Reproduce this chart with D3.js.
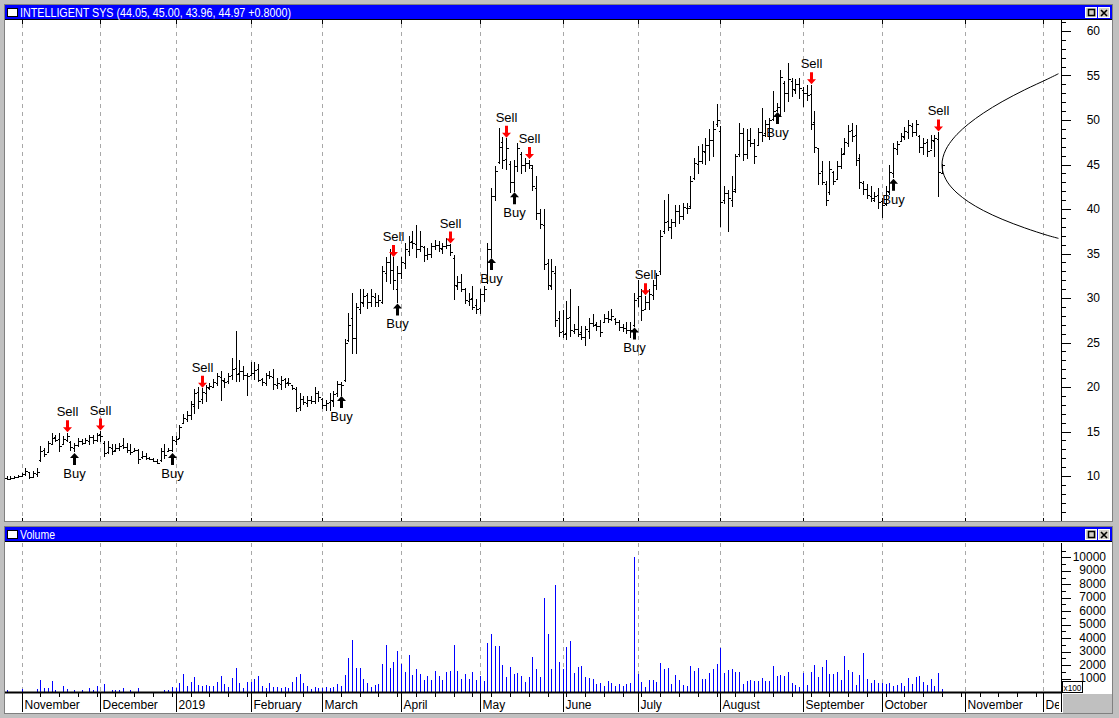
<!DOCTYPE html>
<html><head><meta charset="utf-8">
<script src="https://cdn.jsdelivr.net/npm/d3@7"></script>
<style>
body{margin:0;background:#c0c0c0;}
svg{display:block;}
text{font-family:"Liberation Sans",Arial,sans-serif;}
</style>
</head><body>
<svg id="chart" width="1119" height="718"></svg>
<script>
// ---------------- DATA ----------------
const titleText = "INTELLIGENT SYS (44.05, 45.00, 43.96, 44.97 +0.8000)";
const openP = [9.7,9.8,9.7,9.8,9.9,10.0,10.2,10.4,9.9,10.2,
11.8,12.9,12.7,13.6,14.4,14.2,13.6,14.1,13.8,13.2,
13.5,13.9,13.7,13.9,14.4,14.1,14.7,13.7,12.7,13.2,
12.9,13.1,13.5,13.3,12.9,12.8,12.9,12.1,12.3,12.0,
11.9,11.7,11.8,12.8,12.8,12.9,13.9,14.3,16.0,16.4,
16.8,17.9,19.4,18.6,19.3,19.9,20.0,20.5,21.1,20.7,
20.7,21.3,22.1,21.6,21.8,21.3,21.4,21.6,22.0,20.9,
20.5,21.3,21.1,20.2,20.3,20.9,20.6,20.2,19.8,17.7,
18.6,18.2,18.5,18.4,19.3,18.7,18.0,18.3,18.4,19.3,
20.3,20.8,25.3,27.8,25.5,28.8,29.4,30.3,29.5,30.1,
29.6,29.6,32.8,34.0,33.2,31.0,32.8,33.9,35.3,36.4,
36.1,35.5,35.7,34.8,35.0,35.8,35.9,35.5,35.8,35.9,
34.5,31.4,31.8,31.0,29.7,30.0,29.2,28.9,30.4,31.8,
35.5,41.5,45.3,47.5,45.6,45.1,43.0,44.8,46.2,45.0,
45.2,44.6,42.4,39.6,38.2,33.9,31.4,32.8,27.8,26.3,
26.1,27.9,26.3,26.5,26.2,25.6,26.3,27.2,27.1,26.8,
27.3,27.8,27.6,27.6,27.3,26.7,26.6,26.4,27.0,30.0,
30.2,28.8,29.6,30.3,31.5,33.0,37.5,38.6,38.0,38.5,
39.8,39.2,40.1,40.3,43.5,45.1,45.4,46.4,47.2,47.8,
49.5,48.8,41.0,41.8,41.0,42.2,46.2,48.5,46.2,47.8,
47.4,47.2,48.6,48.5,49.6,50.1,51.1,51.5,54.2,53.0,
54.4,53.4,54.0,53.4,53.0,52.9,49.8,46.8,44.3,42.8,
41.9,44.2,43.4,44.8,46.3,47.4,48.9,48.3,45.7,42.9,
42.3,41.5,41.0,41.6,40.9,40.6,41.9,44.0,46.7,47.6,
48.1,48.6,49.3,48.6,48.2,47.0,47.5,46.6,47.6,47.9,
44.05];
const highP = [9.9,9.9,9.9,10.0,10.1,10.3,10.8,10.4,10.5,10.8,
13.3,13.1,13.9,14.8,14.6,14.8,14.4,14.8,13.9,13.7,
14.2,14.1,14.2,14.6,14.6,14.8,15.0,13.9,13.9,13.5,
13.5,13.7,14.2,13.7,13.5,13.1,13.0,12.8,12.5,12.1,
12.0,11.8,13.1,13.5,13.1,14.4,14.4,15.7,16.9,17.2,
18.4,19.7,20.0,19.8,20.2,20.4,20.8,21.5,21.7,21.0,
21.5,23.2,26.2,23.0,22.3,21.5,22.8,22.7,22.5,21.0,
21.5,21.7,22.0,21.0,21.2,21.0,21.0,20.2,19.9,19.3,
18.9,18.9,18.9,20.0,19.5,18.7,18.5,19.3,19.5,20.6,
20.5,25.3,28.3,30.5,29.4,30.9,30.9,30.5,30.9,30.5,
30.3,33.5,34.6,35.4,34.5,33.5,34.5,36.1,36.9,37.5,
38.2,37.5,35.8,35.6,36.1,36.5,36.3,36.1,36.7,36.0,
34.8,32.4,32.6,31.1,30.5,31.3,29.8,30.9,31.3,36.1,
42.3,44.8,49.1,48.0,47.9,45.3,45.5,47.4,46.4,45.7,
45.5,44.9,43.6,39.9,39.9,34.3,34.3,33.5,28.5,28.6,
29.6,30.9,27.0,29.0,26.8,26.8,27.7,28.1,27.2,27.5,
28.1,28.5,28.7,27.7,27.5,27.0,27.2,27.3,30.5,32.0,
30.9,30.2,30.9,32.0,32.8,37.6,41.0,41.6,38.8,40.4,
40.4,40.6,40.6,43.6,45.7,47.0,47.2,47.9,48.9,49.8,
51.7,49.3,42.5,42.1,43.6,46.1,49.6,49.1,48.9,49.1,
47.8,49.1,51.3,50.0,50.2,53.2,51.8,55.6,54.3,56.4,
54.7,54.5,54.7,53.7,53.9,53.9,50.9,46.8,45.3,43.1,
45.3,44.2,45.3,46.8,47.9,49.4,49.6,49.4,46.1,43.1,
42.7,42.5,41.9,42.3,41.2,42.5,44.9,47.4,47.6,48.5,
49.2,50.0,49.6,50.0,48.3,47.9,47.8,48.3,48.3,48.6,
45.00];
const lowP = [9.6,9.6,9.6,9.7,9.8,9.9,10.1,9.7,9.8,9.9,
11.6,12.2,12.7,13.5,13.9,12.7,13.5,13.9,12.9,12.7,
13.3,13.5,13.6,13.5,13.7,13.9,13.9,12.2,12.5,12.4,
12.7,12.9,13.1,12.6,12.4,12.7,11.4,12.0,11.8,11.8,
11.6,11.4,11.6,12.0,12.7,12.7,13.5,14.2,15.9,16.1,
16.3,17.0,17.6,18.2,18.4,19.7,19.9,20.2,18.5,20.0,
20.4,20.8,20.6,20.6,20.8,19.1,21.3,20.8,20.6,20.2,
20.2,21.0,19.7,19.8,19.7,19.9,20.2,19.7,17.2,17.4,
18.0,17.8,18.2,18.2,18.4,17.6,17.4,17.4,17.8,18.9,
19.1,20.6,25.1,23.8,23.8,28.3,29.0,28.8,29.0,29.0,
29.0,29.4,31.8,31.6,30.9,29.5,32.2,33.3,34.8,35.6,
34.5,35.2,34.1,34.3,34.5,35.4,35.2,35.0,35.6,34.8,
29.8,30.9,30.7,29.4,29.2,28.7,28.3,28.3,29.6,31.6,
34.6,41.0,45.1,44.6,44.4,41.9,42.0,44.2,44.0,44.2,
44.6,42.1,38.8,37.8,33.2,30.9,30.9,26.8,25.7,25.6,
25.3,25.7,26.0,25.7,25.3,24.7,25.5,26.8,26.4,25.7,
27.2,27.3,27.5,27.0,26.4,26.2,26.0,25.6,26.8,29.0,
27.5,28.7,28.7,29.8,30.9,32.6,37.3,37.6,36.7,38.0,
38.4,38.8,39.5,40.1,43.3,44.0,45.1,45.0,45.5,45.9,
49.3,38.0,40.6,37.5,40.3,41.8,45.9,45.5,45.7,47.0,
45.1,47.2,47.6,48.1,47.8,50.0,51.0,50.4,50.9,52.1,
52.6,53.0,52.4,51.5,52.2,48.9,46.4,42.7,42.7,40.4,
41.6,42.7,43.4,44.6,46.1,47.0,47.6,44.9,42.3,41.6,
41.2,40.8,40.8,40.1,39.1,40.4,41.6,43.5,46.1,47.6,
47.8,47.9,48.1,48.3,46.4,46.1,45.9,46.8,45.9,41.4,
43.96];
const closeP = [9.8,9.7,9.8,9.9,10.0,10.2,10.6,9.9,10.3,10.5,
12.8,12.5,13.7,14.3,14.1,13.4,14.2,14.5,13.3,13.5,
13.9,13.7,14.0,14.4,14.1,14.6,14.5,12.6,13.3,12.8,
13.1,13.4,13.3,12.9,12.7,12.9,11.9,12.3,12.0,11.9,
11.7,11.5,12.8,12.4,12.9,14.0,14.2,15.5,16.5,16.9,
18.1,19.3,18.4,19.4,20.0,20.1,20.6,21.2,20.8,20.6,
21.2,22.0,21.5,21.8,21.4,21.2,21.6,21.9,20.8,20.6,
21.3,21.2,20.3,20.4,20.8,20.5,20.4,19.9,17.6,18.6,
18.3,18.5,18.4,19.3,18.9,18.0,18.2,18.5,19.2,20.3,
20.2,25.0,27.0,25.5,29.0,29.5,30.2,29.5,30.2,29.6,
29.8,33.0,34.0,33.2,32.0,32.8,34.0,35.5,36.3,36.2,
35.5,35.8,34.8,35.0,35.8,35.9,35.6,35.8,36.0,35.2,
31.5,31.8,31.0,29.8,29.9,29.0,28.8,30.5,31.0,35.5,
41.5,44.3,47.0,45.5,46.8,43.0,44.8,46.8,45.0,45.2,
45.0,42.6,39.5,38.3,33.8,31.5,33.0,27.5,26.2,26.0,
27.8,26.4,26.5,26.0,25.6,26.5,27.2,27.0,26.8,26.2,
27.8,27.6,28.0,27.3,26.7,26.6,26.4,26.4,29.8,30.2,
28.6,29.6,30.5,31.5,32.6,37.0,38.5,38.0,38.5,39.8,
39.2,40.2,40.1,43.2,45.2,45.4,46.5,47.2,47.8,49.0,
50.0,40.8,41.8,41.2,42.0,45.9,48.5,46.2,47.8,47.4,
46.0,48.6,48.3,49.6,50.0,51.0,51.5,54.8,53.0,54.6,
53.5,54.0,53.6,53.0,52.8,49.5,47.0,44.0,43.0,41.0,
44.5,43.2,44.8,46.2,47.5,48.8,48.2,45.5,43.0,42.2,
41.6,41.2,41.5,40.8,40.5,42.0,44.2,46.8,47.3,48.2,
48.8,49.4,48.6,49.5,47.0,47.4,46.5,47.8,48.0,44.17,
44.97];
// volume, in the axis units (x100 shares)
const volume = [60,150,20,20,20,215,20,20,20,215,
880,290,290,800,140,20,435,215,20,120,
20,120,20,290,140,435,20,580,20,140,
140,140,290,20,140,20,290,20,20,20,
20,20,20,140,140,360,330,660,1320,460,
730,1100,540,460,540,460,460,730,1170,580,
390,1030,1760,660,290,710,760,950,1170,470,
290,660,360,360,290,360,290,730,1100,1320,
660,440,215,360,290,290,360,290,360,580,
440,1250,2500,3830,1760,1760,950,660,360,510,
580,2060,3460,1760,2210,3020,2060,1470,2720,1250,
1690,1320,880,1170,880,1540,1170,880,1470,1540,
3460,1540,950,1320,950,1470,880,1170,800,3610,
4340,3380,3380,1990,1100,1840,1320,1400,1170,730,
1100,2570,1690,1100,7000,4340,1690,7960,2210,1690,
3310,3750,1400,1840,1910,1100,1030,950,580,660,
440,800,660,440,580,440,580,660,10030,1320,
730,360,880,880,730,2130,1690,1760,580,1250,
880,510,440,1910,1540,1760,950,950,1400,1690,
2060,3240,1400,1620,1690,1470,1470,580,800,880,
800,800,1030,800,800,1910,1170,1250,1170,1470,
660,510,360,1400,510,1470,1990,1100,1840,2350,
1320,1320,1470,880,2650,1620,1470,510,1250,2870,
950,660,880,660,660,580,660,440,510,660,
440,1030,580,1100,1170,730,510,950,440,1400,
220];
// calendar: month names and the bar index of each month's first session
const monthNames = ["November","December","2019","February","March","April","May","June","July","August","September","October","November","December"];
const monthStarts = [5,26,46,66,85,106,127,149,169,191,213,234,256,277];
// expert signals (bar indices)
const sellIdx = [17,26,53,104,119,134,140,171,215,249];
const buyIdx = [19,45,90,105,130,136,168,206,237];
// projection cone drawn to the right of the last bar (bars ahead, upper, lower)
const coneSteps = [0,0.25,1,2,4,7,11,16,22,28,31];
const coneUpper = [44.97,45.80,46.65,47.36,48.39,49.54,50.77,52.06,53.39,54.58,55.20];
const coneLower = [44.97,44.15,43.35,42.70,41.80,40.82,39.83,38.85,37.88,37.05,36.70];
// axis ticks
const priceTicks = [10,15,20,25,30,35,40,45,50,55,60];
const volTicks = [1000,2000,3000,4000,5000,6000,7000,8000,9000,10000];

// ---------------- LAYOUT ----------------
const svg = d3.select("#chart");
const W = 1119, H = 718;
const plotL = 5, plotR = 1061;
const pTop = 20, pBot = 521;
const vTop = 543, vBot = 692;
const lastIdx = closeP.length - 1;

const x = d3.scaleLinear().domain([0, 277]).range([2.75, 2.75 + 277 * 3.757]);
const yP = d3.scaleLinear().domain([10, 60]).range([476, 31]);
const yV = d3.scaleLinear().domain([0, 10000]).range([692, 557.3]);
const px = v => Math.round(v) + 0.5;

svg.append("rect").attr("width", W).attr("height", H).attr("fill", "#c0c0c0");

// ---- price panel frame ----
svg.append("rect").attr("x", 4).attr("y", 4).attr("width", 1109).attr("height", 518).attr("fill", "#808080");
svg.append("rect").attr("x", 5).attr("y", 5).attr("width", 1107).attr("height", 14).attr("fill", "#0000ff");
svg.append("line").attr("x1", 5).attr("x2", 1112).attr("y1", 19.5).attr("y2", 19.5).attr("stroke", "#000");
svg.append("rect").attr("x", 5).attr("y", 20).attr("width", 1107).attr("height", 501).attr("fill", "#fff");

// ---- volume panel frame ----
svg.append("rect").attr("x", 4).attr("y", 526).attr("width", 1109).attr("height", 188).attr("fill", "#808080");
svg.append("rect").attr("x", 5).attr("y", 527).attr("width", 1107).attr("height", 14).attr("fill", "#0000ff");
svg.append("line").attr("x1", 5).attr("x2", 1112).attr("y1", 541.5).attr("y2", 541.5).attr("stroke", "#000");
svg.append("rect").attr("x", 5).attr("y", 542).attr("width", 1107).attr("height", 171).attr("fill", "#fff");
svg.append("rect").attr("x", 1063).attr("y", 694).attr("width", 49).attr("height", 19).attr("fill", "#c0c0c0");

// title bars
function titleBar(y0, label, len) {
  svg.append("rect").attr("x", 7.5).attr("y", y0 + 3.5).attr("width", 10).attr("height", 8)
    .attr("fill", "#fff").attr("stroke", "#000");
  svg.append("text").attr("x", 20).attr("y", y0 + 12).attr("fill", "#fff")
    .attr("font-size", 12).attr("textLength", len).attr("lengthAdjust", "spacingAndGlyphs").text(label);
  // window buttons
  svg.append("rect").attr("x", 1085.5).attr("y", y0 + 2.5).attr("width", 11).attr("height", 10).attr("fill", "#d4d0c8").attr("stroke", "#fff");
  svg.append("rect").attr("x", 1088.5).attr("y", y0 + 4.5).attr("width", 6).attr("height", 6).attr("fill", "none").attr("stroke", "#000").attr("stroke-width", 1.5);
  svg.append("rect").attr("x", 1098.5).attr("y", y0 + 2.5).attr("width", 11).attr("height", 10).attr("fill", "#d4d0c8").attr("stroke", "#fff");
  svg.append("path").attr("d", `M1101,${y0+5} L1107,${y0+11} M1107,${y0+5} L1101,${y0+11}`).attr("stroke", "#000").attr("stroke-width", 1.6);
}
titleBar(5, titleText, 271);
titleBar(527, "Volume", 35);

// clip paths
const defs = svg.append("defs");
defs.append("clipPath").attr("id", "clipP").append("rect").attr("x", plotL).attr("y", pTop).attr("width", plotR - plotL).attr("height", pBot - pTop);
defs.append("clipPath").attr("id", "clipV").append("rect").attr("x", plotL).attr("y", vTop).attr("width", plotR - plotL).attr("height", vBot - vTop + 1);
defs.append("clipPath").attr("id", "clipX").append("rect").attr("x", plotL).attr("y", 692).attr("width", plotR - plotL - 2).attr("height", 22);

// ---- grid lines (month starts) ----
const gridG = svg.append("g").attr("stroke", "#a8a8a8").attr("stroke-dasharray", "4,4");
monthStarts.forEach(m => {
  const gx = px(x(m));
  if (gx > plotR) return;
  gridG.append("line").attr("x1", gx).attr("x2", gx).attr("y1", pTop + 4).attr("y2", pBot - 3);
  gridG.append("line").attr("x1", gx).attr("x2", gx).attr("y1", vTop).attr("y2", vBot - 1);
  svg.append("line").attr("x1", gx).attr("x2", gx).attr("y1", pTop).attr("y2", pTop + 4).attr("stroke", "#000");
  svg.append("line").attr("x1", gx).attr("x2", gx).attr("y1", pBot - 3).attr("y2", pBot).attr("stroke", "#000");
});

// ---- OHLC bars ----
const barG = svg.append("g").attr("clip-path", "url(#clipP)").attr("stroke", "#000").attr("shape-rendering", "crispEdges");
closeP.forEach((c, i) => {
  const bx = px(x(i));
  barG.append("line").attr("x1", bx).attr("x2", bx).attr("y1", yP(highP[i]) - 0.5).attr("y2", yP(lowP[i]) + 0.5);
  barG.append("line").attr("x1", bx - 2).attr("x2", bx).attr("y1", px(yP(openP[i]))).attr("y2", px(yP(openP[i])));
  barG.append("line").attr("x1", bx).attr("x2", bx + 2).attr("y1", px(yP(c))).attr("y2", px(yP(c)));
});

// ---- projection cone ----
const coneLine = d3.line().x(d => x(lastIdx + d[0])).y(d => yP(d[1])).curve(d3.curveCatmullRom);
const conePts = coneSteps.map((s, k) => [s, coneLower[k]]).reverse()
  .concat(coneSteps.slice(1).map((s, k) => [s, coneUpper[k + 1]]));
svg.append("path").attr("clip-path", "url(#clipP)").attr("d", coneLine(conePts))
  .attr("fill", "none").attr("stroke", "#000").attr("stroke-width", 1);

// ---- signals ----
const sigG = svg.append("g");
sellIdx.forEach(i => {
  const cx = Math.round(x(i)) + 0.5, tip = yP(highP[i]) - 1;
  sigG.append("path").attr("fill", "#ff0000")
    .attr("d", `M${cx-1.5},${tip-12} L${cx+1.5},${tip-12} L${cx+1.5},${tip-5} L${cx+4.5},${tip-5} L${cx},${tip} L${cx-4.5},${tip-5} L${cx-1.5},${tip-5} Z`);
  sigG.append("text").attr("x", cx).attr("y", tip - 16).attr("text-anchor", "middle").attr("font-size", 13).attr("fill", "#000").text("Sell");
});
buyIdx.forEach(i => {
  const cx = Math.round(x(i)) + 0.5, tip = yP(lowP[i]) + 1;
  sigG.append("path").attr("fill", "#000")
    .attr("d", `M${cx-1.5},${tip+12} L${cx+1.5},${tip+12} L${cx+1.5},${tip+5} L${cx+4.5},${tip+5} L${cx},${tip} L${cx-4.5},${tip+5} L${cx-1.5},${tip+5} Z`);
  sigG.append("text").attr("x", cx).attr("y", tip + 25).attr("text-anchor", "middle").attr("font-size", 13).attr("fill", "#000").text("Buy");
});

// ---- price axis (right) ----
svg.append("line").attr("x1", plotR + 0.5).attr("x2", plotR + 0.5).attr("y1", pTop).attr("y2", pBot).attr("stroke", "#000");
const pAx = svg.append("g").attr("stroke", "#000").attr("shape-rendering", "crispEdges");
d3.range(5, 62).forEach(v => {
  const ty = px(yP(v));
  if (ty < pTop || ty > pBot) return;
  pAx.append("line").attr("x1", plotR).attr("x2", plotR + (v % 5 === 0 ? 10 : 5)).attr("y1", ty).attr("y2", ty);
});
priceTicks.forEach(v => {
  svg.append("text").attr("x", 1100).attr("y", yP(v) + 4).attr("text-anchor", "end").attr("font-size", 12).attr("fill", "#000").text(v);
});

// ---- volume bars ----
const volG = svg.append("g").attr("clip-path", "url(#clipV)").attr("stroke", "#0000ff").attr("shape-rendering", "crispEdges");
volume.forEach((v, i) => {
  const bx = px(x(i));
  volG.append("line").attr("x1", bx).attr("x2", bx).attr("y1", yV(0)).attr("y2", yV(v));
});

// ---- volume axis (right) ----
svg.append("line").attr("x1", plotR + 0.5).attr("x2", plotR + 0.5).attr("y1", vTop).attr("y2", vBot + 20).attr("stroke", "#000");
const vAx = svg.append("g").attr("stroke", "#000").attr("shape-rendering", "crispEdges");
d3.range(500, 11000, 500).forEach(v => {
  const ty = px(yV(v));
  vAx.append("line").attr("x1", plotR).attr("x2", plotR + (v % 1000 === 0 ? 10 : 5)).attr("y1", ty).attr("y2", ty);
});
volTicks.forEach(v => {
  svg.append("text").attr("x", 1106).attr("y", yV(v) + 3.5).attr("text-anchor", "end").attr("font-size", 12).attr("fill", "#000").text(v);
});
svg.append("rect").attr("x", 1062.5).attr("y", 681.5).attr("width", 20).attr("height", 11).attr("fill", "#fff").attr("stroke", "#000");
svg.append("text").attr("x", 1072.5).attr("y", 691).attr("text-anchor", "middle").attr("font-size", 9)
  .attr("textLength", 18).attr("lengthAdjust", "spacingAndGlyphs").text("x100");

// ---- bottom time axis ----
svg.append("line").attr("x1", plotL).attr("x2", plotR).attr("y1", 692.5).attr("y2", 692.5).attr("stroke", "#000").attr("stroke-width", 2);
const xAx = svg.append("g").attr("stroke", "#000").attr("shape-rendering", "crispEdges");
d3.range(0, 280, 5).forEach(i => {
  const tx = px(x(i));
  if (tx < plotL || tx > plotR) return;
  xAx.append("line").attr("x1", tx).attr("x2", tx).attr("y1", 692).attr("y2", 697);
});
const labG = svg.append("g").attr("clip-path", "url(#clipX)");
monthStarts.forEach((m, k) => {
  const tx = px(x(m));
  if (tx > plotR) return;
  xAx.append("line").attr("x1", tx).attr("x2", tx).attr("y1", 692).attr("y2", 712);
  labG.append("text").attr("x", tx + 2).attr("y", 709).attr("font-size", 12).attr("fill", "#000").text(monthNames[k]);
});
</script>
</body></html>
